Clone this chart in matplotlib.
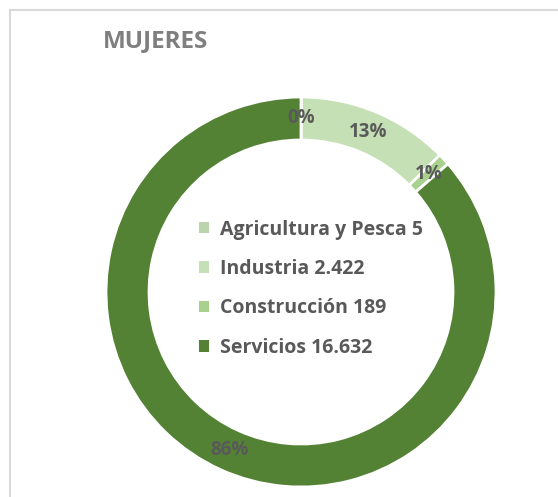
import matplotlib.pyplot as plt
from matplotlib.patches import Rectangle

categories = ["Agricultura y Pesca", "Industria", "Construcción", "Servicios"]
values = [5, 2422, 189, 16632]
colors = ["#BAD4AC", "#C5E0B4", "#A9D18E", "#548235"]
title = "MUJERES"


def fmt_num(v):
    return f"{v:,}".replace(",", ".")


plt.rcParams['font.family'] = ['Open Sans', 'DejaVu Sans']

fig = plt.figure(figsize=(5.58, 4.97), dpi=100)
ax = fig.add_axes([0, 0, 1, 1])
ax.set_xlim(0, 558)
ax.set_ylim(0, 497)
ax.set_aspect('equal')
ax.axis('off')

# chart frame (partly cropped in the original)
ax.add_patch(Rectangle((10, -20), 600, 497 - 10 + 20, fill=False,
                       edgecolor="#D9D9D9", linewidth=1.5))

wedges, texts, autotexts = ax.pie(
    values, colors=colors, startangle=90, counterclock=False,
    center=(301, 497 - 292), radius=195, autopct='%.0f%%', pctdistance=0.89,
    wedgeprops=dict(width=43, edgecolor='white', linewidth=2),
    textprops=dict(color="#595959", fontsize=13.5, fontweight='bold'))
ax.set_xlim(0, 558)
ax.set_ylim(0, 497)

ax.text(103, 497 - 41, title, fontsize=17.5, fontweight='bold', color="#7F7F7F",
        ha='left', va='center')

labels = [f"{c} {fmt_num(v)}" for c, v in zip(categories, values)]
leg = ax.legend(wedges, labels, loc='upper left', bbox_to_anchor=(181 / 558, 1 - 202 / 497),
                frameon=False, handlelength=0.55, handleheight=0.55, handletextpad=0.55,
                labelspacing=1.0, prop=dict(size=14, weight='bold'))
for t in leg.get_texts():
    t.set_color("#595959")
for h in leg.legend_handles:
    h.set_edgecolor('none')

fig.savefig("out.png", dpi=100)
